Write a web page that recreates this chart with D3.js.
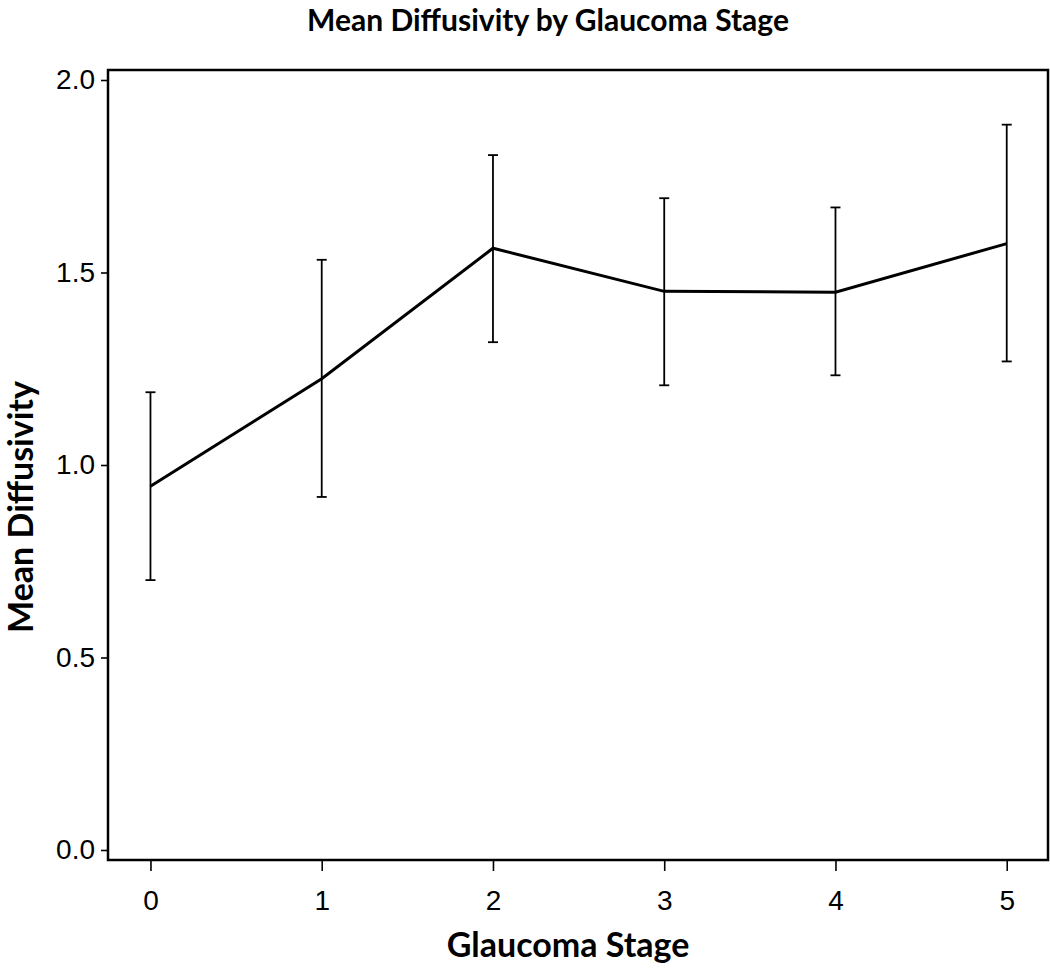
<!DOCTYPE html>
<html>
<head>
<meta charset="utf-8">
<script src="https://cdn.jsdelivr.net/npm/d3@7"></script>
<style>
  body { margin: 0; background: #fff; }
  .tick text { font-family: "Liberation Sans", Arial, sans-serif; fill: #000; }
  .tick line { stroke: #000; stroke-width: 1.6; }
</style>
</head>
<body>
<div id="chart"></div>
<script>
// values
const stages = [0, 1, 2, 3, 4, 5]
const means = [0.945, 1.224, 1.563, 1.451, 1.449, 1.575]
const upper = [1.189, 1.533, 1.805, 1.693, 1.669, 1.884]
const lower = [0.701, 0.917, 1.319, 1.207, 1.233, 1.269]
const yTicks = [0.0, 0.5, 1.0, 1.5, 2.0]

const width = 1050
const height = 974
const margin = { top: 70, right: 2, bottom: 114, left: 108 }

const svg = d3
  .select('#chart')
  .append('svg')
  .attr('width', width)
  .attr('height', height)

const x = d3.scaleLinear()
  .domain([-0.248, 5.241])
  .range([margin.left, width - margin.right])

const y = d3.scaleLinear()
  .domain([-0.026, 2.026])
  .range([height - margin.bottom, margin.top])

const data = stages.map((s, i) => ({ stage: s, mean: means[i], hi: upper[i], lo: lower[i] }))

// axes (ticks only, the frame is drawn as a rect)
svg.append('g')
  .attr('transform', 'translate(' + margin.left + ',0)')
  .call(d3.axisLeft(y).tickValues(yTicks).tickFormat(d3.format('.1f')).tickSize(7).tickPadding(6))
  .call(g => g.select('.domain').remove())
  .selectAll('text')
  .attr('font-size', 28)

svg.append('g')
  .attr('transform', 'translate(0,' + (height - margin.bottom) + ')')
  .call(d3.axisBottom(x).tickValues(stages).tickFormat(d3.format('d')).tickSize(11).tickPadding(19))
  .call(g => g.select('.domain').remove())
  .selectAll('text')
  .attr('font-size', 28)

// frame
svg.append('rect')
  .attr('x', margin.left)
  .attr('y', margin.top)
  .attr('width', width - margin.right - margin.left)
  .attr('height', height - margin.bottom - margin.top)
  .attr('fill', 'none')
  .attr('stroke', '#000')
  .attr('stroke-width', 2.5)

// error bars
const bars = svg.selectAll('.err')
  .data(data)
  .enter()
  .append('g')
  .attr('class', 'err')
  .attr('stroke', '#000')
  .attr('stroke-width', 1.8)

bars.append('line')
  .attr('x1', d => x(d.stage))
  .attr('x2', d => x(d.stage))
  .attr('y1', d => y(d.hi))
  .attr('y2', d => y(d.lo))

bars.append('line')
  .attr('x1', d => x(d.stage) - 5)
  .attr('x2', d => x(d.stage) + 5)
  .attr('y1', d => y(d.hi))
  .attr('y2', d => y(d.hi))

bars.append('line')
  .attr('x1', d => x(d.stage) - 5)
  .attr('x2', d => x(d.stage) + 5)
  .attr('y1', d => y(d.lo))
  .attr('y2', d => y(d.lo))

// mean line
const line = d3.line()
  .x(d => x(d.stage))
  .y(d => y(d.mean))

svg.append('path')
  .datum(data)
  .attr('d', line)
  .attr('fill', 'none')
  .attr('stroke', '#000')
  .attr('stroke-width', 3)

// titles
svg.append('text')
  .attr('x', 548)
  .attr('y', 31)
  .attr('text-anchor', 'middle')
  .attr('font-family', 'Lato, "Open Sans", sans-serif')
  .attr('font-weight', 'bold')
  .attr('font-size', 30)
  .text('Mean Diffusivity by Glaucoma Stage')

svg.append('text')
  .attr('x', 568)
  .attr('y', 957)
  .attr('text-anchor', 'middle')
  .attr('font-family', 'Lato, "Open Sans", sans-serif')
  .attr('font-weight', 'bold')
  .attr('font-size', 34)
  .text('Glaucoma Stage')

svg.append('text')
  .attr('transform', 'translate(33,507) rotate(-90)')
  .attr('text-anchor', 'middle')
  .attr('font-family', 'Lato, "Open Sans", sans-serif')
  .attr('font-weight', 'bold')
  .attr('font-size', 34)
  .text('Mean Diffusivity')
</script>
</body>
</html>
